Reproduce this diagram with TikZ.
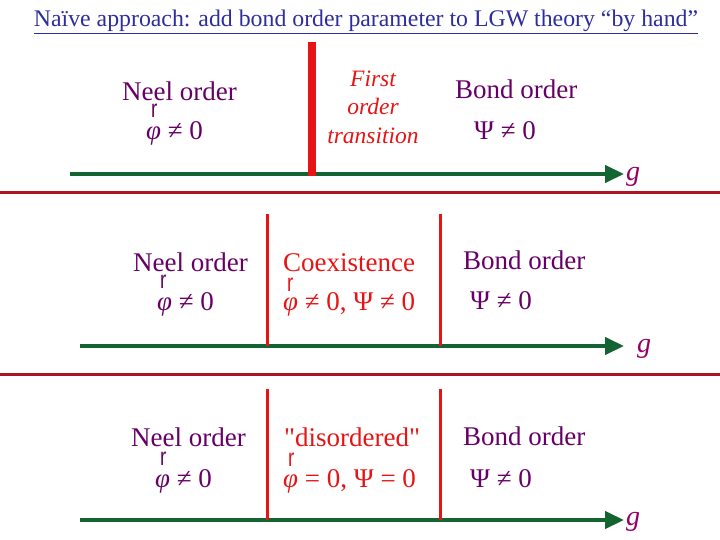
\documentclass[tikz,border=0pt]{standalone}
\usepackage{fontspec}
\setmainfont{Liberation Serif}
\setsansfont{Liberation Sans}
\usepackage{graphicx}
\usepackage{tikz}
\usetikzlibrary{arrows.meta}
\definecolor{titleblue}{RGB}{45,45,160}
\definecolor{phasepurple}{RGB}{102,0,102}
\definecolor{axisgreen}{RGB}{20,100,50}
\definecolor{linered}{RGB}{230,20,20}
\definecolor{seprred}{RGB}{170,20,35}
\definecolor{gmagenta}{RGB}{150,0,100}
\newcommand\plainquote{\XeTeXglyph\XeTeXcharglyph"22\relax}
\newcommand\vecmark{\scalebox{0.75}[1]{r}}

\begin{document}
\begin{tikzpicture}[x=1pt,y=-1pt]
            \tikzstyle{phase}=[anchor=base west,inner sep=0pt,text=phasepurple,font=\fontsize{27}{30}\selectfont]
            \tikzstyle{mixed}=[phase,text=linered]
            \tikzstyle{vecr}=[anchor=base west,inner sep=0pt,font=\sffamily\fontsize{25}{25}\selectfont]
            \tikzstyle{axis}=[draw=axisgreen,line width=4.5pt,-{Triangle[length=19pt,width=17pt]}]
            \tikzstyle{wall}=[draw=linered,line width=3pt]
            \tikzstyle{gvar}=[anchor=base west,inner sep=0pt,text=gmagenta,font=\fontsize{28}{30}\selectfont\itshape]
            \useasboundingbox (0,0) rectangle (720,540);

                    % title
                    \node[text=titleblue,font=\fontsize{23.8}{25}\selectfont,inner sep=0pt,anchor=base] (T) at (366,27){\underline{Naïve approach: add bond order parameter to LGW theory “by hand”}};

                    % first panel
                    \coordinate (A-1s) at (70,174);
                    \coordinate (A-1e) at (624,174);
                    \coordinate (W-1t) at (312,42);
                    \coordinate (W-1b) at (312,176);
                    \draw[axis] (A-1s) -- (A-1e);
                    \draw[draw=linered,line width=8pt] (W-1t) -- (W-1b);
                    \node[phase] (N-1) at (122,101){Neel order};
                    \node[vecr,text=phasepurple] (R-1) at (151,118){\vecmark};
                    \node[phase] (P-1) at (146,140){{\itshape φ} ≠ 0};
                    \node[text=linered,font=\fontsize{23.5}{28.5}\selectfont\itshape,align=center,inner sep=0pt] (F-1) at (373,107){First\\order\\transition};
                    \node[phase] (B-1) at (455,99){Bond order};
                    \node[phase] (S-1) at (474,140){Ψ ≠ 0};
                    \node[gvar] (G-1) at (626,181){g};

                    % second panel
                    \coordinate (A-2s) at (80,346);
                    \coordinate (A-2e) at (624,346);
                    \coordinate (W-2t) at (267,214);
                    \coordinate (W-2b) at (267,346);
                    \coordinate (W-3t) at (440,214);
                    \coordinate (W-3b) at (440,346);
                    \draw[axis] (A-2s) -- (A-2e);
                    \foreach \from/\to in {W-2t/W-2b, W-3t/W-3b}
                        \draw[wall] (\from) -- (\to);
                    \node[phase] (N-2) at (133,271){Neel order};
                    \node[vecr,text=phasepurple] (R-2) at (160,288){\vecmark};
                    \node[phase] (P-2) at (157,310){{\itshape φ} ≠ 0};
                    \node[mixed] (C-2) at (283,271){Coexistence};
                    \node[vecr,text=linered] (R-3) at (287,291){\vecmark};
                    \node[mixed] (Q-2) at (283,310){{\itshape φ} ≠ 0, Ψ ≠ 0};
                    \node[phase] (B-2) at (463,269){Bond order};
                    \node[phase] (S-2) at (470,309){Ψ ≠ 0};
                    \node[gvar] (G-2) at (637,352){g};

                    % third panel
                    \coordinate (A-3s) at (80,520);
                    \coordinate (A-3e) at (624,520);
                    \coordinate (W-4t) at (267,389);
                    \coordinate (W-4b) at (267,520);
                    \coordinate (W-5t) at (440,389);
                    \coordinate (W-5b) at (440,520);
                    \draw[axis] (A-3s) -- (A-3e);
                    \foreach \from/\to in {W-4t/W-4b, W-5t/W-5b}
                        \draw[wall] (\from) -- (\to);
                    \node[phase] (N-3) at (131,446){Neel order};
                    \node[vecr,text=phasepurple] (R-4) at (160,465){\vecmark};
                    \node[phase] (P-3) at (155,487){{\itshape φ} ≠ 0};
                    \node[mixed] (C-3) at (284,446){\plainquote disordered\plainquote};
                    \node[vecr,text=linered] (R-5) at (288,466){\vecmark};
                    \node[mixed] (Q-3) at (283,487){{\itshape φ} = 0, Ψ = 0};
                    \node[phase] (B-3) at (463,445){Bond order};
                    \node[phase] (S-3) at (470,487){Ψ ≠ 0};
                    \node[gvar] (G-3) at (626,525){g};

                    % separators
                    \coordinate (L-1a) at (0,193);
                    \coordinate (L-1b) at (720,193);
                    \coordinate (L-2a) at (0,374);
                    \coordinate (L-2b) at (720,374);
                \foreach \from/\to in {L-1a/L-1b, L-2a/L-2b}
                    \draw[draw=seprred,line width=3pt] (\from) -- (\to);
        \end{tikzpicture}
\end{document}
